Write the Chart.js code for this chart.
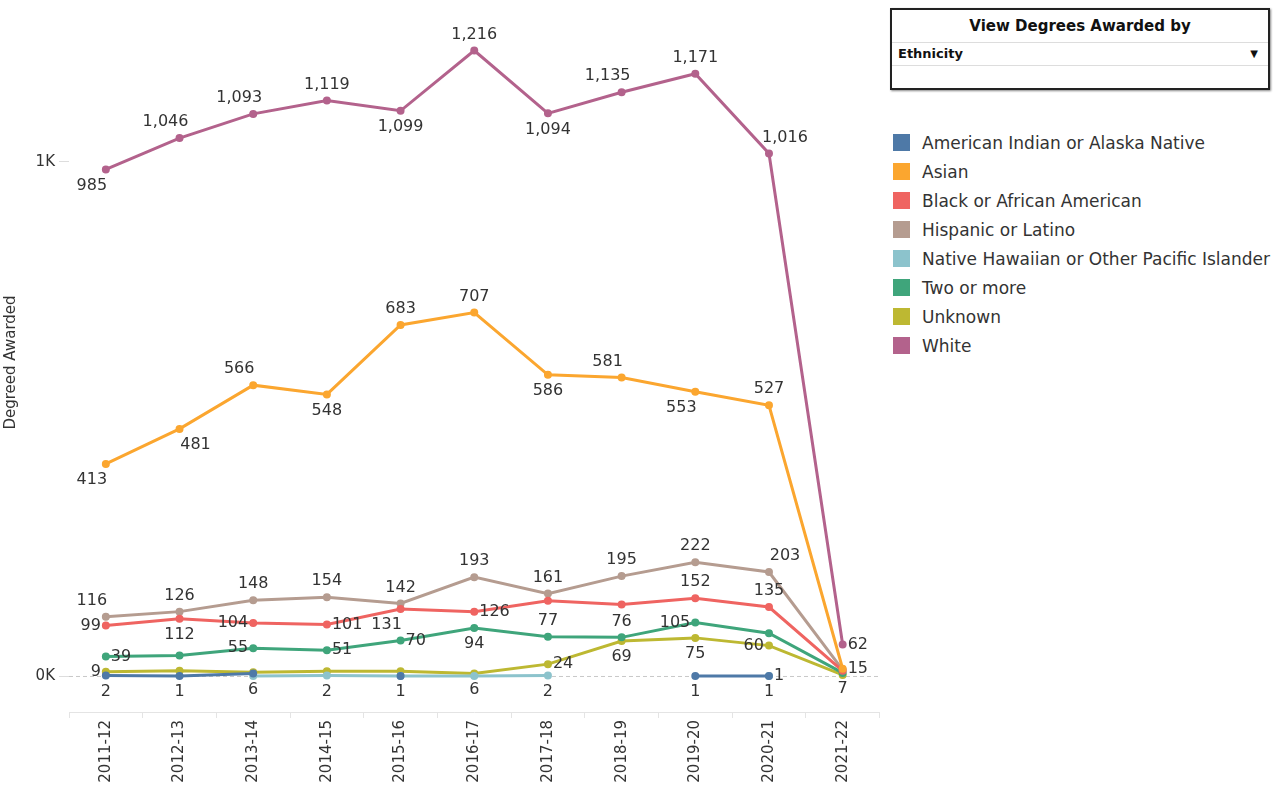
<!DOCTYPE html>
<html>
<head>
<meta charset="utf-8">
<script src="https://cdn.jsdelivr.net/npm/chart.js@4/dist/chart.umd.min.js"></script>
<style>
  body { margin: 0; background: #fff; font-family: "DejaVu Sans", sans-serif; color: #333; }
  #wrap { position: absolute; left: 0; top: 0; width: 885px; height: 788px; }
  #panel { position: absolute; left: 890px; top: 8px; width: 376px; height: 78px; border: 2px solid #222; box-shadow: 1px 1px 2px #888; }
  #panel .title { height: 32px; line-height: 32px; text-align: center; font-weight: bold; font-size: 15px; color: #111; border-bottom: 1px solid #ddd; }
  #panel .sel { height: 22px; line-height: 22px; padding-left: 6px; font-weight: bold; font-size: 13px; color: #111; border-bottom: 1px solid #ddd; position: relative; }
  #panel .sel span { position: absolute; right: 10px; top: 0; font-size: 10px; }
  #legend { position: absolute; left: 893px; top: 128px; }
  .row { height: 29px; display: flex; align-items: center; font-size: 17px; color: #333; white-space: nowrap; }
  .sw { width: 17px; height: 17px; margin-right: 12px; }
</style>
</head>
<body>
<div id="wrap"><canvas id="chart"></canvas></div>
<div id="panel">
  <div class="title">View Degrees Awarded by</div>
  <div class="sel">Ethnicity<span>&#9660;</span></div>
</div>
<div id="legend"></div>
<script>
const years = ["2011-12", "2012-13", "2013-14", "2014-15", "2015-16", "2016-17", "2017-18", "2018-19", "2019-20", "2020-21", "2021-22"];

const amIndian = [2, 1, 6, null, 1, null, null, null, 1, 1, null];
const asian = [413, 481, 566, 548, 683, 707, 586, 581, 553, 527, 15];
const black = [99, 112, 104, 101, 131, 126, 147, 140, 152, 135, 11];
const hispanic = [116, 126, 148, 154, 142, 193, 161, 195, 222, 203, 13];
const hawaiian = [null, null, 1, 2, 1, 1, 2, null, null, 1, null];
const twoOrMore = [39, 41, 55, 51, 70, 94, 77, 76, 105, 84, 7];
const unknown = [9, 11, 8, 10, 10, 6, 24, 69, 75, 60, 3];
const white = [985, 1046, 1093, 1119, 1099, 1216, 1094, 1135, 1171, 1016, 62];

// where each value label sits: a above, b below, l left, r right, n hidden
const labelPos = {
  "American Indian or Alaska Native": ["b", "b", "b", "n", "b", "n", "n", "n", "b", "r", "n"],
  "Asian": ["bl", "br", "al", "b", "a", "a", "b", "al", "bl", "a", "r"],
  "Black or African American": ["l", "b", "l", "r", "bl", "r", "n", "n", "a", "a", "n"],
  "Hispanic or Latino": ["al", "a", "a", "a", "a", "a", "a", "a", "a", "ar", "n"],
  "Native Hawaiian or Other Pacific Islander": ["n", "n", "n", "b", "n", "n", "b", "n", "n", "b", "n"],
  "Two or more": ["r", "n", "l", "r", "r", "b", "a", "a", "l", "n", "b"],
  "Unknown": ["l", "n", "n", "n", "n", "b", "r", "b", "b", "l", "n"],
  "White": ["bl", "al", "al", "a", "b", "a", "b", "al", "a", "ar", "r"]
};

const series = [
  ["American Indian or Alaska Native", amIndian, "#4e79a7"],
  ["Asian", asian, "#fba62f"],
  ["Black or African American", black, "#ef6461"],
  ["Hispanic or Latino", hispanic, "#b59c90"],
  ["Native Hawaiian or Other Pacific Islander", hawaiian, "#8cc3cc"],
  ["Two or more", twoOrMore, "#3fa57b"],
  ["Unknown", unknown, "#bdb832"],
  ["White", white, "#b3628c"]
];

const legend = document.getElementById("legend");
series.forEach(s => {
  const row = document.createElement("div");
  row.className = "row";
  row.innerHTML = '<div class="sw" style="background:' + s[2] + '"></div>' + s[0];
  legend.appendChild(row);
});

const valueLabels = {
  id: "valueLabels",
  afterDatasetsDraw(chart) {
    const ctx = chart.ctx;
    ctx.save();
    ctx.font = "16px 'DejaVu Sans'";
    ctx.fillStyle = "#333";
    chart.data.datasets.forEach((ds, i) => {
      const meta = chart.getDatasetMeta(i);
      const pos = labelPos[ds.label];
      meta.data.forEach((pt, j) => {
        const v = ds.data[j];
        if (v == null || pos[j] === "n") return;
        const p = pos[j];
        let x = pt.x, y = pt.y;
        ctx.textAlign = "center";
        ctx.textBaseline = "middle";
        if (p[0] === "a") y -= 16;
        if (p[0] === "b") y += 16;
        if (p[0] === "l") { ctx.textAlign = "right"; x -= 5; }
        if (p[0] === "r") { ctx.textAlign = "left"; x += 5; }
        if (p[1] === "l") x -= 14;
        if (p[1] === "r") x += 16;
        ctx.fillText(v.toLocaleString("en-US"), x, y);
      });
    });
    ctx.restore();
  }
};

const zeroLine = {
  id: "zeroLine",
  beforeDatasetsDraw(chart) {
    const ctx = chart.ctx;
    const y = chart.scales.y.getPixelForValue(0);
    ctx.save();
    ctx.strokeStyle = "#c8c8c8";
    ctx.lineWidth = 1;
    ctx.setLineDash([4, 3]);
    ctx.beginPath();
    ctx.moveTo(chart.chartArea.left, y);
    ctx.lineTo(chart.chartArea.right, y);
    ctx.stroke();
    ctx.restore();
  }
};

new Chart(document.getElementById("chart"), {
  type: "line",
  data: {
    labels: years,
    datasets: series.map(s => ({
      label: s[0],
      data: s[1],
      borderColor: s[2],
      backgroundColor: s[2],
      borderWidth: 3,
      pointRadius: 2.5,
      pointHoverRadius: 2.5,
      fill: false,
      tension: 0,
      spanGaps: false
    }))
  },
  options: {
    responsive: true,
    maintainAspectRatio: false,
    animation: false,
    layout: { padding: { top: 0, right: 0, left: 0, bottom: 0 } },
    plugins: { legend: { display: false }, tooltip: { enabled: false } },
    scales: {
      x: {
        offset: true,
        grid: { offset: true, drawOnChartArea: false, tickLength: 6, color: "#e4e4e4" },
        border: { color: "#e4e4e4" },
        ticks: { minRotation: 90, maxRotation: 90, color: "#333", font: { family: "DejaVu Sans", size: 15 }, padding: 2 },
        afterFit: scale => { scale.height = 76; }
      },
      y: {
        min: -69,
        max: 1289,
        afterBuildTicks: scale => { scale.ticks = [{ value: 0 }, { value: 1000 }]; },
        grid: { drawOnChartArea: false, tickLength: 10, color: "#dddddd" },
        border: { display: false },
        ticks: { color: "#333", font: { family: "DejaVu Sans", size: 15 }, padding: 4, callback: v => (v / 1000) + "K" },
        title: { display: true, text: "Degreed Awarded", color: "#333", font: { family: "DejaVu Sans", size: 15 }, padding: 2 },
        afterFit: scale => { scale.width = 69; }
      }
    }
  },
  plugins: [zeroLine, valueLabels]
});
</script>
</body>
</html>
